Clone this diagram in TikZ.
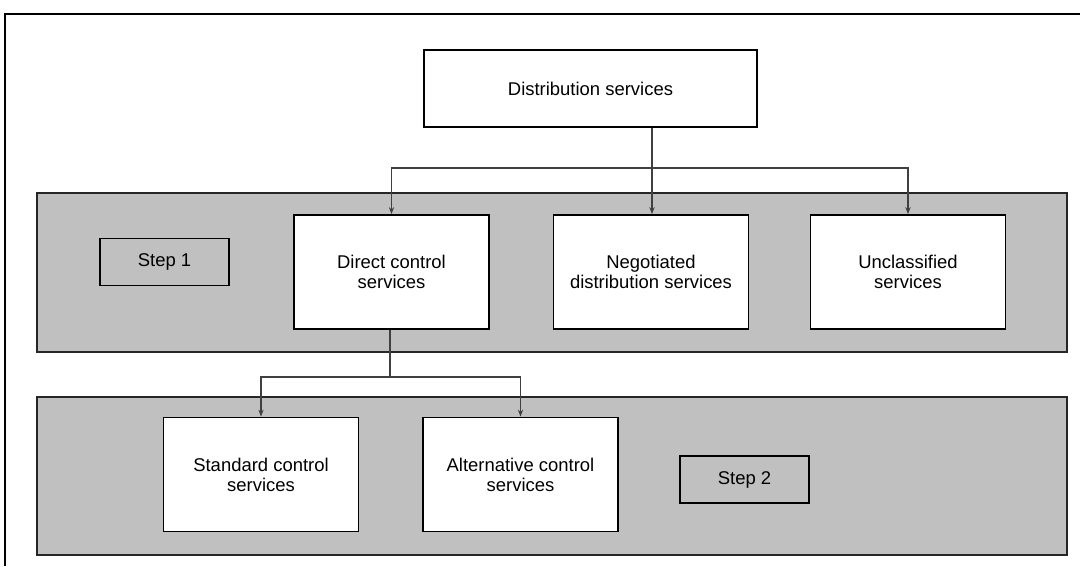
\documentclass[tikz,border=0pt]{standalone}
\usepackage{fontspec}
\setmainfont{Liberation Sans}
\usepackage {tikz}
\usetikzlibrary {arrows.meta}
\definecolor {bandgray}{HTML}{C0C0C0}

\begin{document}
\begin{tikzpicture}[x=0.02cm,y=-0.02cm,font=\fontsize{10.5}{11.5}\selectfont]
  \tikzstyle{box}=[rectangle, draw, fill=white, line width=1pt, align=center,
minimum width=3.9cm, minimum height=2.28cm, inner sep=2pt]
  \tikzstyle{steplabel}=[rectangle, draw, fill=bandgray, line width=0.9pt,
minimum width=2.58cm, minimum height=0.94cm]
  \tikzstyle{band}=[fill=bandgray, draw=black!85, line width=0.6pt]
  \tikzstyle{arr}=[draw=black!75, line width=0.6pt, -{Stealth[length=4pt,width=3pt]}]
  \useasboundingbox (0,0) rectangle (1080,566);
  \draw[line width=1.1pt] (5,566) -- (5,14) -- (1080,14);

  \draw[band] (37,193) rectangle (1067,352);
  \draw[band] (37,397) rectangle (1067,555);

  \node[box, minimum width=6.66cm, minimum height=1.54cm] (Dist) at (590.5,88.5) {Distribution services};
  \node[steplabel] (Step_1) at (164.5,262) {Step 1};
  \node[box] (Direct) at (391.5,272) {Direct control\\services};
  \node[box] (Nego) at (651,272) {Negotiated\\distribution services};
  \node[box] (Uncl) at (908,272) {Unclassified\\services};
  \node[box] (Std) at (261,474.5) {Standard control\\services};
  \node[box] (Alt) at (520.5,474.5) {Alternative control\\services};
  \node[steplabel] (Step_2) at (744.5,479.5) {Step 2};

  \coordinate (split_1) at (652,168);
  \coordinate (split_2) at (390,377);

  \draw[arr, -] (split_1 |- Dist.south) -- (split_1);
  \draw[arr] (split_1) -| (Direct.north);
  \draw[arr] (split_1) -- (split_1 |- Nego.north);
  \draw[arr] (split_1) -| (Uncl.north);
  \draw[arr, -] (split_2 |- Direct.south) -- (split_2);
  \draw[arr] (split_2) -| (Std.north);
  \draw[arr] (split_2) -| (Alt.north);
\end{tikzpicture}
\end{document}
